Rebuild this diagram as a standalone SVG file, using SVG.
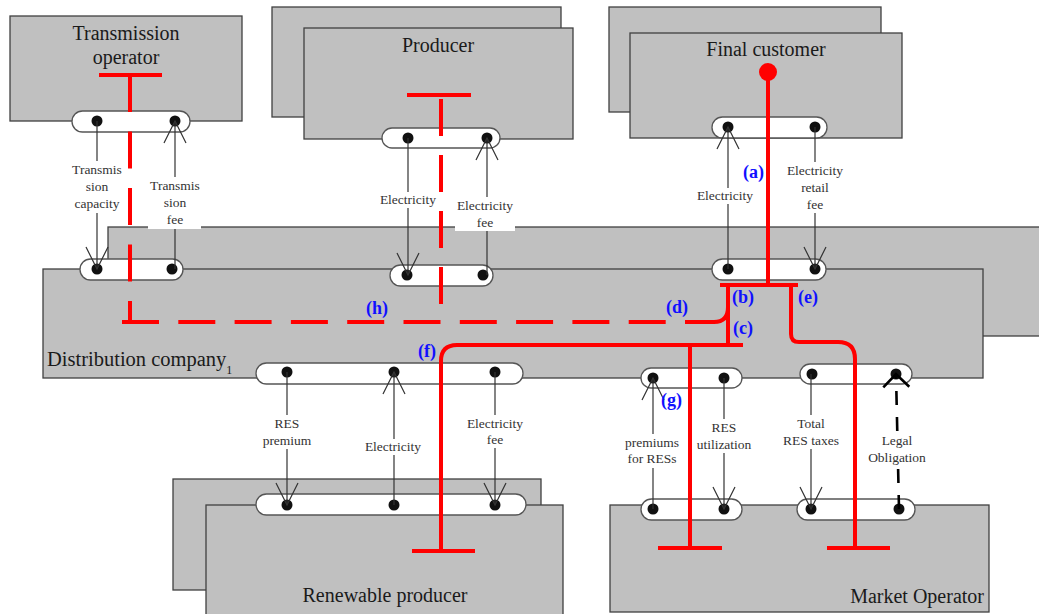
<svg xmlns="http://www.w3.org/2000/svg" width="1039" height="614" viewBox="0 0 1039 614">
<style>
.box{fill:#c0c0c0;stroke:#404040;stroke-width:1.3}
.pill{fill:#fff;stroke:#555;stroke-width:1.3}
.dot{fill:#111}
.title{font-family:"Liberation Serif",serif;font-size:20px;fill:#1a1a1a}
.lbl{font-family:"Liberation Serif",serif;font-size:13.5px;fill:#333;text-anchor:middle}
.bg{fill:#fff}
.ln{stroke:#333;stroke-width:1.2;fill:none}
.red{stroke:#ff0000;stroke-width:4;fill:none}
.tag{font-family:"Liberation Serif",serif;font-size:18px;font-weight:bold;fill:#1010ff}
</style>
<defs>
<marker id="ah" viewBox="-24 -12 25 24" refX="0" refY="0" markerWidth="25" markerHeight="24" markerUnits="userSpaceOnUse" orient="auto"><path d="M-22,-11 L0,0 L-22,11" fill="none" stroke="#333" stroke-width="1.2"/></marker>
<marker id="ahb" viewBox="-15 -15 17 30" refX="0" refY="0" markerWidth="17" markerHeight="30" markerUnits="userSpaceOnUse" orient="auto"><path d="M-13,-13 L0,0 L-13,13" fill="none" stroke="#000" stroke-width="2.6"/></marker>
</defs>
<rect width="1039" height="614" fill="#fff"/>

<g id="transmission-operator">
<rect class="box" x="10" y="16" width="232" height="105"/>
<text class="title" x="126" y="40" text-anchor="middle">Transmission</text>
<text class="title" x="126" y="64" text-anchor="middle">operator</text>
<rect class="pill" x="72" y="111" width="118" height="21" rx="10.5"/>
<circle class="dot" cx="97" cy="121" r="5.5"/>
<circle class="dot" cx="175" cy="121" r="5.5"/>
</g>

<g id="producer">
<rect class="box" x="272" y="7" width="289" height="110"/>
<rect class="box" x="304" y="28" width="269" height="111"/>
<text class="title" x="438" y="52" text-anchor="middle">Producer</text>
<rect class="pill" x="382" y="128" width="118" height="20" rx="10"/>
<circle class="dot" cx="408" cy="138" r="5.5"/>
<circle class="dot" cx="487" cy="138" r="5.5"/>
</g>

<g id="final-customer">
<rect class="box" x="609" y="7" width="272" height="105"/>
<rect class="box" x="630" y="33" width="272" height="105"/>
<text class="title" x="766" y="56" text-anchor="middle">Final customer</text>
<rect class="pill" x="712" y="117" width="115" height="21" rx="10.5"/>
<circle class="dot" cx="728" cy="127" r="5.5"/>
<circle class="dot" cx="815" cy="127" r="5.5"/>
</g>

<g id="distribution-company">
<rect class="box" x="108" y="227" width="940" height="109"/>
<rect class="box" x="43" y="269" width="940" height="109"/>
<text class="title" x="47" y="366" style="font-size:20.5px">Distribution company<tspan dy="8" style="font-size:12px">1</tspan></text>
<rect class="pill" x="80" y="259" width="103" height="21" rx="10.5"/>
<circle class="dot" cx="97" cy="269" r="5.5"/>
<circle class="dot" cx="172" cy="269" r="5.5"/>
<rect class="pill" x="390" y="265" width="103" height="21" rx="10.5"/>
<circle class="dot" cx="407" cy="275" r="5.5"/>
<circle class="dot" cx="483" cy="275" r="5.5"/>
<rect class="pill" x="712" y="259" width="114" height="21" rx="10.5"/>
<circle class="dot" cx="728" cy="269" r="5.5"/>
<circle class="dot" cx="815" cy="269" r="5.5"/>
<rect class="pill" x="256" y="363" width="267" height="21" rx="10.5"/>
<circle class="dot" cx="287" cy="372" r="5.5"/>
<circle class="dot" cx="394" cy="372" r="5.5"/>
<circle class="dot" cx="495" cy="372" r="5.5"/>
<rect class="pill" x="641" y="368" width="101" height="20" rx="10"/>
<circle class="dot" cx="653" cy="378" r="5.5"/>
<circle class="dot" cx="724" cy="378" r="5.5"/>
<rect class="pill" x="800" y="364" width="112" height="20" rx="10"/>
<circle class="dot" cx="812" cy="374" r="5.5"/>
<circle class="dot" cx="896" cy="374" r="5.5"/>
</g>

<g id="renewable-producer">
<rect class="box" x="173" y="479" width="368" height="111"/>
<rect class="box" x="206" y="505" width="357" height="115"/>
<text class="title" x="385" y="602" text-anchor="middle">Renewable producer</text>
<rect class="pill" x="256" y="494" width="270" height="21" rx="10.5"/>
<circle class="dot" cx="287" cy="505" r="5.5"/>
<circle class="dot" cx="394" cy="505" r="5.5"/>
<circle class="dot" cx="495" cy="505" r="5.5"/>
</g>

<g id="market-operator">
<rect class="box" x="610" y="505" width="379" height="107"/>
<text class="title" x="984" y="603" text-anchor="end">Market Operator</text>
<rect class="pill" x="641" y="499" width="101" height="21" rx="10.5"/>
<circle class="dot" cx="653" cy="509" r="5.5"/>
<circle class="dot" cx="724" cy="509" r="5.5"/>
<rect class="pill" x="797" y="499" width="118" height="21" rx="10.5"/>
<circle class="dot" cx="811" cy="509" r="5.5"/>
<circle class="dot" cx="899" cy="509" r="5.5"/>
</g>

<g id="connectors">
<g id="money-energy-flows">
<path class="ln" d="M97,121 V269" marker-end="url(#ah)"/>
<path class="ln" d="M175,269 V121" marker-end="url(#ah)"/>
<path class="ln" d="M408,138 V275" marker-end="url(#ah)"/>
<path class="ln" d="M487,275 V138" marker-end="url(#ah)"/>
<path class="ln" d="M728,269 V127" marker-end="url(#ah)"/>
<path class="ln" d="M815,127 V269" marker-end="url(#ah)"/>
<path class="ln" d="M287,372 V505" marker-end="url(#ah)"/>
<path class="ln" d="M394,505 V372" marker-end="url(#ah)"/>
<path class="ln" d="M495,372 V505" marker-end="url(#ah)"/>
<path class="ln" d="M653,509 V378" marker-end="url(#ah)"/>
<path class="ln" d="M724,378 V509" marker-end="url(#ah)"/>
<path class="ln" d="M811,374 V509" marker-end="url(#ah)"/>
<path d="M899,509 L896,374" fill="none" stroke="#000" stroke-width="2.6" stroke-dasharray="14 12" marker-end="url(#ahb)"/>
</g>
<g id="flow-labels">
<rect class="bg" x="70" y="161" width="54" height="52"/>
<text class="lbl" x="97" y="174">Transmis</text>
<text class="lbl" x="97" y="191">sion</text>
<text class="lbl" x="97" y="208">capacity</text>
<rect class="bg" x="148" y="177" width="53" height="52"/>
<text class="lbl" x="175" y="190">Transmis</text>
<text class="lbl" x="175" y="207">sion</text>
<text class="lbl" x="175" y="224">fee</text>
<rect class="bg" x="379" y="192" width="58" height="16"/>
<text class="lbl" x="408" y="204">Electricity</text>
<rect class="bg" x="455" y="197" width="60" height="34"/>
<text class="lbl" x="485" y="210">Electricity</text>
<text class="lbl" x="485" y="227">fee</text>
<rect class="bg" x="696" y="188" width="58" height="16"/>
<text class="lbl" x="725" y="200">Electricity</text>
<rect class="bg" x="786" y="162" width="58" height="51"/>
<text class="lbl" x="815" y="175">Electricity</text>
<text class="lbl" x="815" y="192">retail</text>
<text class="lbl" x="815" y="209">fee</text>
<rect class="bg" x="263" y="415" width="48" height="34"/>
<text class="lbl" x="287" y="428">RES</text>
<text class="lbl" x="287" y="445">premium</text>
<rect class="bg" x="364" y="439" width="58" height="16"/>
<text class="lbl" x="393" y="451">Electricity</text>
<rect class="bg" x="466" y="415" width="58" height="33"/>
<text class="lbl" x="495" y="428">Electricity</text>
<text class="lbl" x="495" y="444">fee</text>
<rect class="bg" x="623" y="434" width="58" height="34"/>
<text class="lbl" x="652" y="447">premiums</text>
<text class="lbl" x="652" y="463">for RESs</text>
<rect class="bg" x="695" y="419" width="58" height="34"/>
<text class="lbl" x="724" y="432">RES</text>
<text class="lbl" x="724" y="449">utilization</text>
<rect class="bg" x="782" y="415" width="58" height="34"/>
<text class="lbl" x="811" y="428">Total</text>
<text class="lbl" x="811" y="445">RES taxes</text>
<rect class="bg" x="866" y="432" width="62" height="34"/>
<text class="lbl" x="897" y="445">Legal</text>
<text class="lbl" x="897" y="462">Obligation</text>
</g>
<g id="red-paths">
<path class="red" d="M99,75 H162"/>
<path class="red" d="M130,75 V322" stroke-dasharray="37 19.5"/>
<path class="red" d="M122,322 H680" stroke-dasharray="37 19.3"/>
<path class="red" d="M685,322 H714 Q728,322 728,307"/>
<path class="red" d="M407,95 H471"/>
<path class="red" d="M441,99 V305" stroke-dasharray="37 19"/>
<circle cx="768" cy="72" r="9" fill="#ff0000"/>
<path class="red" d="M768,72 V285"/>
<path class="red" d="M720,285 H798"/>
<path class="red" d="M728,285 V345"/>
<path class="red" d="M441,551 V361 Q441,345 457,345 H743"/>
<path class="red" d="M412,551 H475"/>
<path class="red" d="M690,345 V548"/>
<path class="red" d="M658,548 H722"/>
<path class="red" d="M791,285 V334 Q791,342 799,342 H838 Q855,342 855,359 V548"/>
<path class="red" d="M827,548 H890"/>
<text class="tag" x="743" y="178">(a)</text>
<text class="tag" x="732" y="303">(b)</text>
<text class="tag" x="733" y="334">(c)</text>
<text class="tag" x="666" y="313">(d)</text>
<text class="tag" x="798" y="303">(e)</text>
<text class="tag" x="418" y="357">(f)</text>
<text class="tag" x="661" y="406">(g)</text>
<text class="tag" x="366" y="314">(h)</text>
</g>
</g>
</svg>
